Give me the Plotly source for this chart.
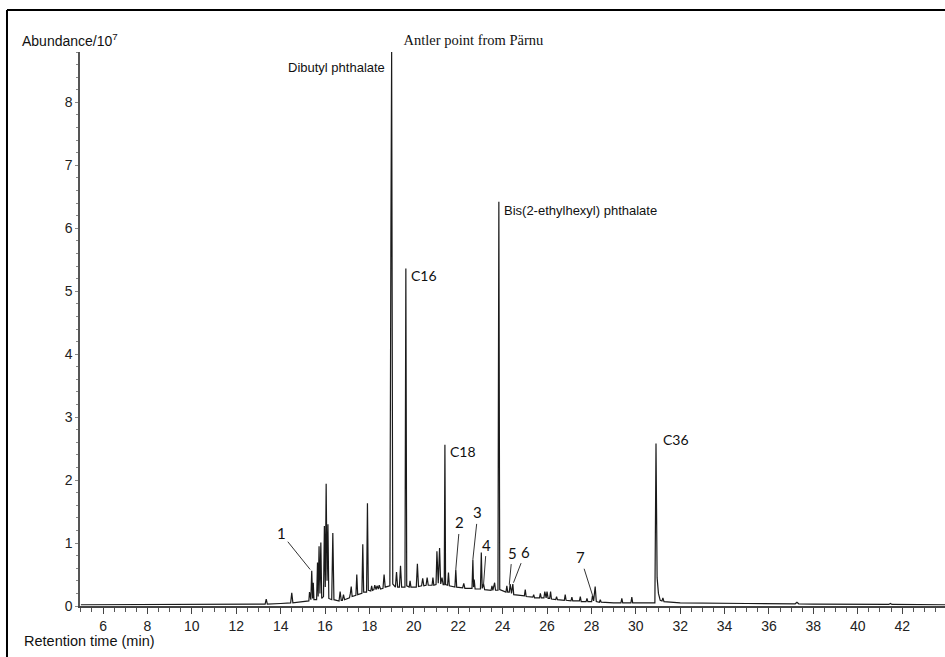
import plotly.graph_objects as go

# ---- chromatogram trace (retention time in min, abundance in 10^7) ----
retention_time = [
    5.0, 12.0, 13.0,
    13.30, 13.35, 13.40,
    14.0,
    14.45, 14.50, 14.55,
    15.0, 15.2,
    15.27, 15.30, 15.33,
    15.36, 15.40, 15.44, 15.47, 15.50,
    15.62, 15.66, 15.69, 15.73, 15.77, 15.81, 15.85,
    15.93, 15.97, 16.01, 16.05, 16.09, 16.13, 16.17,
    16.30, 16.35, 16.40,
    16.63, 16.68, 16.73, 16.78, 16.83, 16.88,
    17.10, 17.14, 17.18, 17.22,
    17.39, 17.43, 17.47,
    17.66, 17.70, 17.74, 17.87, 17.91, 17.95,
    18.06, 18.10, 18.14, 18.20, 18.24, 18.30, 18.34, 18.40, 18.44, 18.50,
    18.61, 18.66, 18.71,
    18.92, 18.97, 19.00, 19.05,
    19.17, 19.22, 19.27, 19.35, 19.40, 19.45,
    19.60, 19.64, 19.68,
    19.79, 19.83, 19.87,
    20.11, 20.16, 20.21,
    20.35, 20.40, 20.45, 20.55, 20.60, 20.65,
    20.82, 20.86, 20.90,
    21.00, 21.04, 21.10, 21.16, 21.21, 21.27, 21.32,
    21.37, 21.40, 21.43,
    21.52, 21.56, 21.60,
    21.85, 21.89, 21.93,
    22.20, 22.25, 22.30,
    22.62, 22.66, 22.69, 22.72, 22.76,
    23.00, 23.04, 23.08, 23.14, 23.19,
    23.48, 23.52, 23.56, 23.64, 23.68,
    23.79, 23.83, 23.87,
    24.15, 24.19, 24.23, 24.30, 24.34, 24.40, 24.46, 24.50,
    24.98, 25.02, 25.06,
    25.36, 25.40, 25.44,
    25.66, 25.70, 25.74, 25.86, 25.90, 25.96, 26.00, 26.05, 26.12, 26.16, 26.20,
    26.39, 26.43, 26.47,
    26.78, 26.82, 26.86,
    27.08, 27.12, 27.16,
    27.46, 27.50, 27.54,
    27.76, 27.80, 27.84,
    28.01, 28.05, 28.10, 28.17, 28.22,
    28.36, 28.40, 28.44,
    29.0,
    29.33, 29.37, 29.41,
    29.78, 29.82, 29.86,
    30.5, 30.86, 30.91, 30.96, 31.02, 31.10, 31.18, 31.22, 31.27, 31.5,
    32.0, 35.0,
    37.18, 37.26, 37.34,
    38.0,
    41.40, 41.47, 41.54,
    44.0,
]
abundance = [
    0.02, 0.02, 0.03,
    0.03, 0.11, 0.03,
    0.04,
    0.05, 0.21, 0.05,
    0.07, 0.08,
    0.08, 0.22, 0.10,
    0.10, 0.56, 0.12, 0.37, 0.10,
    0.10, 0.69, 0.15, 0.95, 0.20, 1.01, 0.12,
    0.15, 1.27, 0.30, 1.94, 0.40, 1.30, 0.12,
    0.10, 1.16, 0.10,
    0.08, 0.23, 0.09, 0.09, 0.18, 0.10,
    0.13, 0.20, 0.31, 0.15,
    0.17, 0.50, 0.18,
    0.20, 0.98, 0.22, 0.22, 1.63, 0.25,
    0.24, 0.32, 0.25, 0.26, 0.33, 0.26, 0.32, 0.27, 0.33, 0.27,
    0.28, 0.50, 0.30,
    0.32, 6.20, 8.80, 0.35,
    0.30, 0.54, 0.30, 0.30, 0.64, 0.30,
    0.30, 5.36, 0.32,
    0.30, 0.40, 0.30,
    0.30, 0.67, 0.31,
    0.32, 0.44, 0.32, 0.33, 0.45, 0.33,
    0.33, 0.45, 0.33,
    0.34, 0.87, 0.36, 0.92, 0.35, 0.45, 0.34,
    0.34, 2.56, 0.34,
    0.33, 0.53, 0.32,
    0.30, 0.58, 0.30,
    0.29, 0.36, 0.28,
    0.28, 0.74, 0.30, 0.42, 0.27,
    0.27, 0.85, 0.28, 0.35, 0.26,
    0.25, 0.32, 0.25, 0.37, 0.25,
    0.25, 6.42, 0.26,
    0.22, 0.32, 0.22, 0.22, 0.35, 0.20, 0.35, 0.18,
    0.16, 0.26, 0.15,
    0.14, 0.18, 0.13,
    0.13, 0.20, 0.13, 0.13, 0.23, 0.13, 0.23, 0.12, 0.12, 0.23, 0.11,
    0.10, 0.15, 0.10,
    0.09, 0.18, 0.09,
    0.08, 0.14, 0.08,
    0.08, 0.15, 0.07,
    0.07, 0.12, 0.07,
    0.07, 0.17, 0.08, 0.31, 0.07,
    0.06, 0.10, 0.06,
    0.05,
    0.05, 0.12, 0.05,
    0.05, 0.14, 0.05,
    0.05, 0.05, 2.58, 0.45, 0.20, 0.09, 0.08, 0.13, 0.07, 0.06,
    0.05, 0.04,
    0.035, 0.06, 0.035,
    0.03,
    0.025, 0.04, 0.025,
    0.02,
]
assert len(retention_time) == len(abundance)

# ---- named peaks (label, retention time, apex abundance) ----
named_labels = ["Dibutyl phthalate", "C16", "Bis(2-ethylhexyl) phthalate", "C18", "C36"]
named_rt = [19.00, 19.64, 23.83, 21.40, 30.91]
named_abund = [8.80, 5.36, 6.42, 2.56, 2.58]

# ---- numbered peaks (label, retention time, abundance at leader tip) ----
num_labels = ["1", "2", "3", "4", "5", "6", "7"]
num_rt = [15.33, 21.89, 22.66, 23.14, 24.30, 24.49, 28.05]
num_abund = [0.58, 0.58, 0.74, 0.34, 0.34, 0.37, 0.17]

x_ticks = list(range(6, 44, 2))
y_ticks = list(range(0, 9))

fig = go.Figure()
fig.add_trace(go.Scatter(
    x=retention_time, y=abundance, mode="lines",
    line=dict(color="#1a1a1a", width=1.2), hoverinfo="x+y", showlegend=False,
))

SANS = "Liberation Sans, Arial, sans-serif"
LAB = "Lato, Carlito, sans-serif"

# named peak labels
named_style = {
    "Dibutyl phthalate": dict(xanchor="right", yanchor="top", xshift=-5, yshift=-6, font=dict(family=SANS, size=13)),
    "C16": dict(xanchor="left", yanchor="middle", xshift=3, yshift=-7, font=dict(family=LAB, size=14)),
    "Bis(2-ethylhexyl) phthalate": dict(xanchor="left", yanchor="middle", xshift=3, yshift=-9, font=dict(family=SANS, size=13)),
    "C18": dict(xanchor="left", yanchor="middle", xshift=3, yshift=-7, font=dict(family=LAB, size=14)),
    "C36": dict(xanchor="left", yanchor="middle", xshift=5, yshift=4, font=dict(family=LAB, size=14)),
}
for lab, rt, ab in zip(named_labels, named_rt, named_abund):
    st = named_style[lab]
    fig.add_annotation(x=rt, y=ab, text=lab, showarrow=False,
                       xanchor=st["xanchor"], yanchor=st["yanchor"],
                       xshift=st["xshift"], yshift=st["yshift"],
                       font=dict(color="#111", **st["font"]))

# numbered peak labels with leader lines
num_offsets = [(-29, -36), (4, -47), (5, -47), (3, -40), (3, -32), (12, -31), (-12, -38)]
for lab, rt, ab, (ax, ay) in zip(num_labels, num_rt, num_abund, num_offsets):
    fig.add_annotation(x=rt, y=ab, text=lab, showarrow=True, arrowhead=0,
                       arrowwidth=1, arrowcolor="#333", ax=ax, ay=ay,
                       standoff=0, startstandoff=1,
                       font=dict(family=LAB, size=15, color="#111"))

# axis titles as free text
fig.add_annotation(xref="paper", yref="paper", x=-0.0694, y=1.0217,
                   text="Abundance/10<sup>7</sup>", showarrow=False,
                   xanchor="left", yanchor="middle",
                   font=dict(family=SANS, size=14, color="#111"))
fig.add_annotation(xref="paper", yref="paper", x=-0.0674, y=-0.063,
                   text="Retention time (min)", showarrow=False,
                   xanchor="left", yanchor="middle",
                   font=dict(family=SANS, size=14.5, color="#111"))

# outer frame (left and top edges)
fig.add_shape(type="line", xref="paper", yref="paper", x0=-0.0844, x1=-0.0844,
              y0=-0.2, y1=1.0758, line=dict(color="#000", width=2))
fig.add_shape(type="line", xref="paper", yref="paper", x0=-0.0844, x1=1.2,
              y0=1.0758, y1=1.0758, line=dict(color="#000", width=2))

fig.update_layout(
    width=945, height=657,
    margin=dict(l=80, r=0, t=52, b=51),
    paper_bgcolor="white", plot_bgcolor="white",
    title=dict(text="Antler point from Pärnu", xref="container", yref="container",
               x=0.501, y=1 - 40 / 657, xanchor="center", yanchor="middle",
               font=dict(family="Liberation Serif, Times New Roman, serif", size=14.5, color="#111")),
    xaxis=dict(range=[4.96, 43.93], tickvals=x_ticks, ticktext=[str(v) for v in x_ticks],
               showline=True, linecolor="#444", linewidth=1.5, ticks="outside",
               ticklen=6, tickwidth=1.2, tickcolor="#444", showgrid=False, zeroline=False,
               tickfont=dict(family=SANS, size=14, color="#222"),
               minor=dict(dtick=0.5, tick0=0, ticks="outside", ticklen=4, tickcolor="#555", tickwidth=1)),
    yaxis=dict(range=[0, 8.8], tickvals=y_ticks, ticktext=[str(v) for v in y_ticks],
               showline=True, linecolor="#555", linewidth=1.5, ticks="outside",
               ticklen=3, tickwidth=1, tickcolor="#888", showgrid=False, zeroline=False,
               tickfont=dict(family=SANS, size=14, color="#222"),
               minor=dict(dtick=0.2, tick0=0, ticks="outside", ticklen=2, tickcolor="#888", tickwidth=1)),
)

fig.write_html("out.html")
